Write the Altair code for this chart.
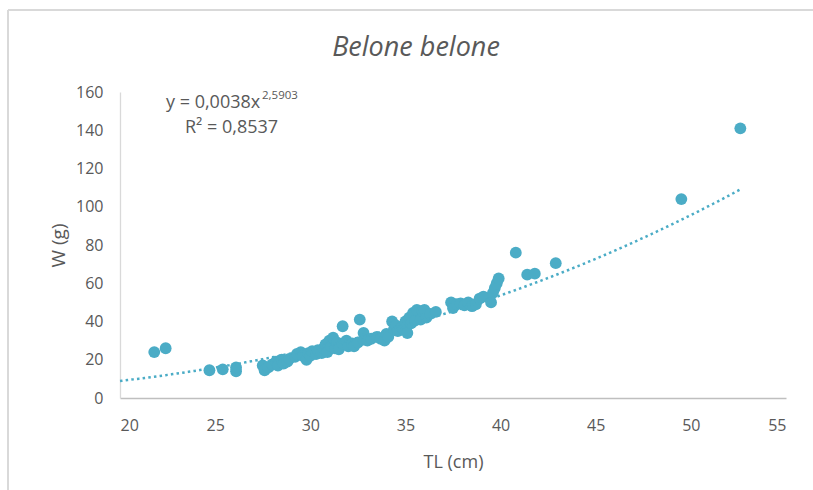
import altair as alt
import pandas as pd

# Total length (cm) and weight (g)
tl = [21.8, 22.4, 24.7, 25.4, 26.1, 26.1,
      27.5, 27.6, 27.8, 28.0, 28.2, 28.3, 28.5, 28.6, 28.8, 28.9,
      29.2, 29.3, 29.5, 29.6, 29.8, 29.9, 30.0, 30.1, 30.3, 30.4, 30.6, 30.7, 30.8, 30.9,
      31.0, 31.1, 31.2, 31.3, 31.4, 31.5, 31.7, 31.7, 31.9, 32.0, 32.2, 32.3, 32.5, 32.6,
      32.8, 32.8, 33.0, 33.2, 33.5, 33.7, 33.9, 34.0, 34.1, 34.3, 34.4, 34.5, 34.6, 34.8,
      34.9, 35.0, 35.1, 35.1, 35.2, 35.3, 35.4, 35.5, 35.6, 35.8, 35.9, 36.0, 36.1, 36.3, 36.6,
      37.4, 37.5, 37.7, 37.9, 38.1, 38.3, 38.5, 38.7, 38.9, 39.1, 39.5, 39.6, 39.7, 39.8, 39.9,
      40.8, 41.4, 41.8, 42.9, 49.5, 52.6]
w = [24, 26, 14.5, 15, 14, 16,
     17, 14.5, 16, 17.5, 19, 17, 20, 18, 19, 20.5,
     21.5, 23, 24, 22, 20, 23.5, 22, 24.5, 23, 25, 23.5, 26, 28, 24,
     30, 27, 31.5, 26, 29, 25.5, 37.5, 28.5, 30, 27, 28.5, 27, 29, 41,
     34, 30.5, 30, 31, 32, 31, 30, 33.5, 32, 40, 36, 38, 35, 37,
     36, 40, 38, 34, 42, 39, 44.5, 40.5, 46, 41, 45.5, 46, 42, 44, 45,
     50, 47, 49, 49.5, 48.5, 50, 48, 49, 52, 53, 50, 55, 57.5, 60, 62.5,
     76, 64.5, 65, 70.5, 104, 141]

# Power trend line reported on the chart: W = a * TL^b
coef_a = 0.0038
coef_b = 2.5903
trend_start = 20
trend_stop = 52.7

title_text = ["Belone belone"]
x_title = "TL (cm)"
y_title = "W (g)"
eq_main = ["y = 0,0038x"]
eq_sup = ["2,5903"]
eq_r2 = ["R² = 0,8537"]

x_ticks = [20, 25, 30, 35, 40, 45, 50, 55]
y_ticks = [0, 20, 40, 60, 80, 100, 120, 140, 160]

BLUE = "#4bacc6"
TXT = "#595959"
FONT = "Open Sans"

df = pd.DataFrame({"TL": tl, "W": w})

xs = alt.Scale(domain=[20, 55], nice=False, zero=False)
ys = alt.Scale(domain=[0, 160], nice=False, zero=True)

x_axis = alt.Axis(values=x_ticks, tickCount=8, grid=False, ticks=False,
                  domainColor="#bfbfbf", domainWidth=1.3, labelColor=TXT,
                  labelFontSize=16, labelFont=FONT, labelPadding=19,
                  labelOverlap=False, title=x_title, titleColor=TXT,
                  titleFont=FONT, titleFontSize=18, titleFontWeight="normal",
                  titleX=333, titleY=64, titleBaseline="middle", titleAlign="center")
y_axis = alt.Axis(values=y_ticks, tickCount=9, grid=False, ticks=False,
                  domainColor="#d9d9d9", domainWidth=1.3, labelColor=TXT,
                  labelFontSize=16, labelFont=FONT, labelPadding=17,
                  labelOverlap=False, title=y_title, titleColor=TXT,
                  titleFont=FONT, titleFontSize=19, titleFontWeight="normal",
                  titleX=-62, titleY=153, titleAngle=270, titleAlign="center",
                  titleBaseline="middle")

points = alt.Chart(df).mark_circle(size=140, opacity=1, color=BLUE).encode(
    x=alt.X("TL:Q", scale=xs, axis=x_axis),
    y=alt.Y("W:Q", scale=ys, axis=y_axis),
)

trend = alt.Chart(alt.sequence(trend_start, trend_stop, 0.1, as_="tx")).transform_calculate(
    ty=f"{coef_a} * pow(datum.tx, {coef_b})"
).mark_line(color=BLUE, strokeWidth=2.5, strokeDash=[2.5, 3.2]).encode(
    x=alt.X("tx:Q", scale=xs, axis=x_axis),
    y=alt.Y("ty:Q", scale=ys, axis=y_axis),
)

def label(txt, size, x, y, align="left", baseline="middle", style="normal"):
    return alt.Chart(pd.DataFrame({"t": txt})).mark_text(
        font=FONT, fontSize=size, color=TXT, align=align, baseline=baseline,
        fontStyle=style
    ).encode(text="t:N", x=alt.value(x), y=alt.value(y))

title = label(title_text, 27, 296, -36, align="center", baseline="alphabetic",
              style="italic")
eq1 = label(eq_main, 18, 46, 11)
eq2 = label(eq_sup, 11.5, 142, 3.5)
eq3 = label(eq_r2, 18, 65, 36)

border = alt.Chart(pd.DataFrame({"k": [0]})).mark_rule(color="#d9d9d9", strokeWidth=2)
border_top = border.encode(x=alt.value(-112), x2=alt.value(700), y=alt.value(-82))
border_left = border.encode(x=alt.value(-112), y=alt.value(-82), y2=alt.value(400))

chart = alt.layer(points, trend, border_top, border_left, title, eq1, eq2, eq3).properties(
    width=666, height=306,
    autosize=alt.AutoSizeParams(type="none"),
    padding={"left": 120, "top": 92, "right": 27, "bottom": 92},
    background="white",
).configure_view(stroke=None)

chart.save("out.html", embed_options={"renderer": "svg", "actions": False})
